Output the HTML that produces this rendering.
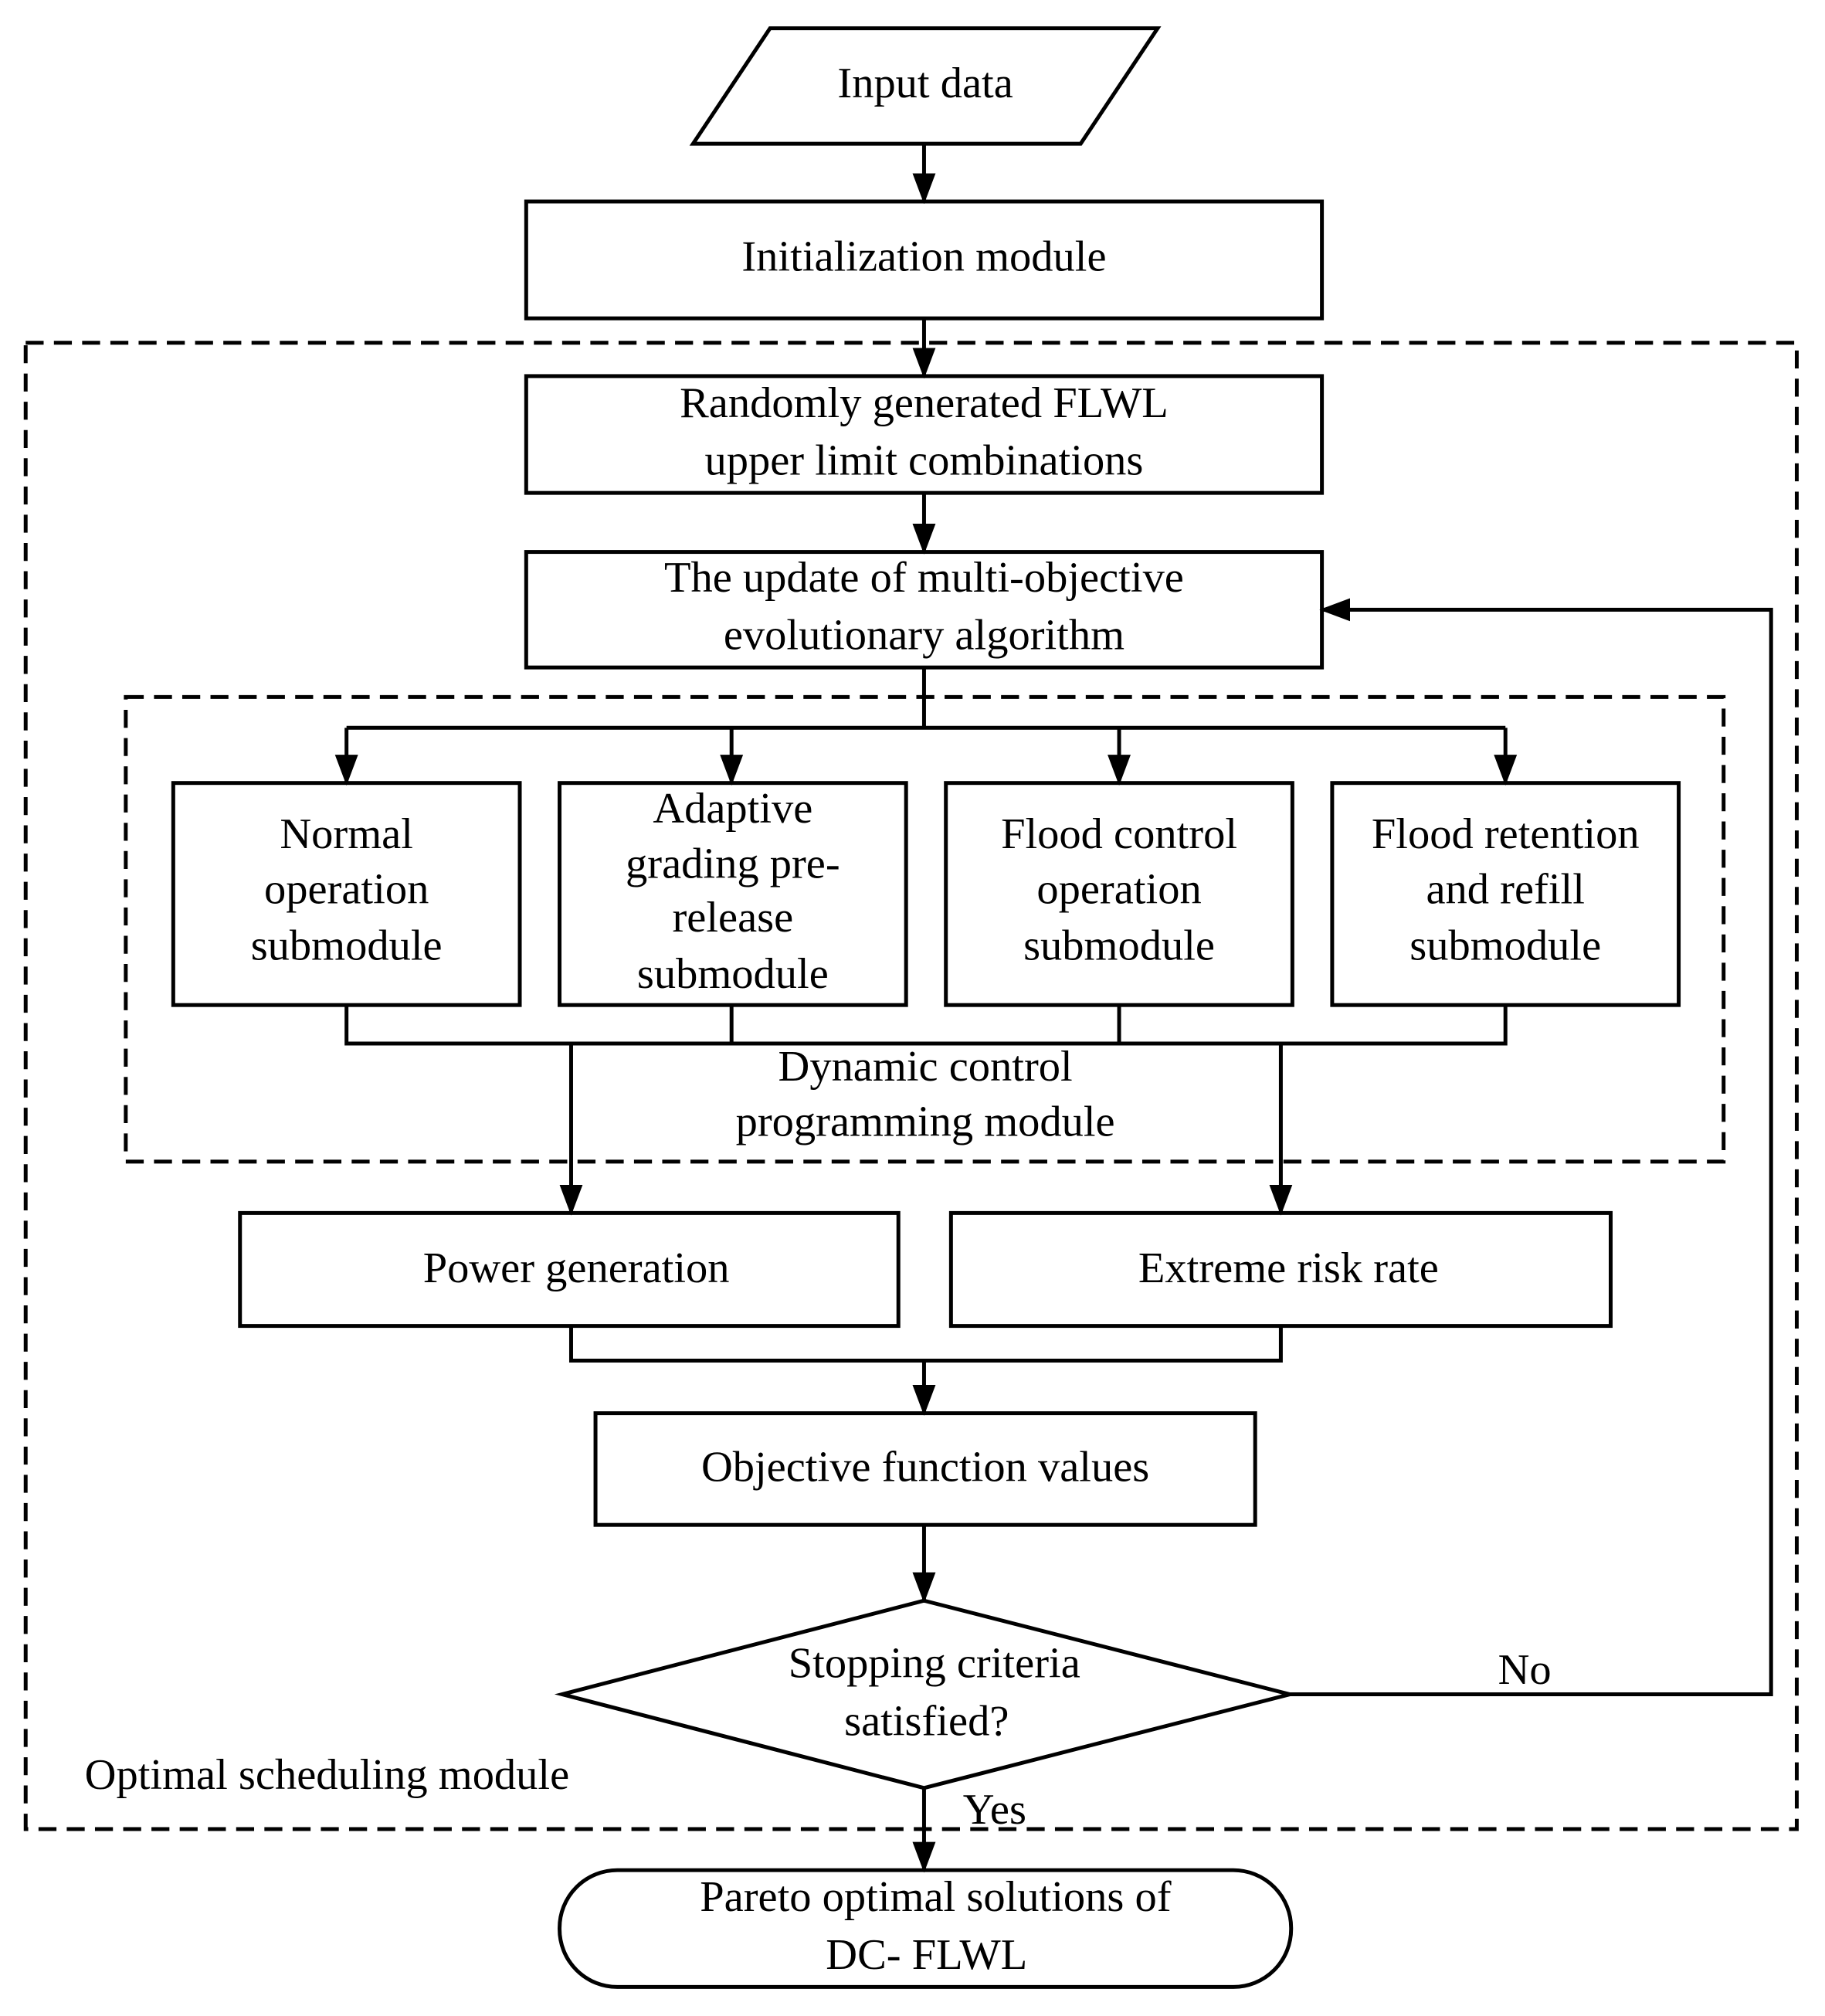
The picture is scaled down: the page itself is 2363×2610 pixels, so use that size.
<!DOCTYPE html>
<html><head><meta charset="utf-8"><style>html,body{margin:0;padding:0;background:#fff}svg{display:block}</style></head>
<body>
<svg xmlns="http://www.w3.org/2000/svg" width="2363" height="2610" viewBox="0 0 1422 1570.6">
<defs><marker id="a" markerWidth="10" markerHeight="10" refX="9" refY="5" orient="auto" markerUnits="userSpaceOnUse" viewBox="0 0 10 10"><path d="M0,0 L10,5 L0,10 z" fill="#000"/></marker>
<marker id="b" markerWidth="24" markerHeight="24" refX="22" refY="12" orient="auto" markerUnits="userSpaceOnUse" viewBox="0 0 24 24"><path d="M0,3 L24,12 L0,21 z" fill="#000"/></marker></defs>
<g fill="none" stroke="#000" stroke-width="3">
<polygon points="540,112 600,22 902,22 842,112"/>
<rect x="410" y="157" width="620" height="91"/>
<rect x="20" y="267" width="1380" height="1158" stroke-dasharray="14,8"/>
<rect x="410" y="293" width="620" height="91"/>
<rect x="410" y="430" width="620" height="90"/>
<rect x="98" y="543" width="1245" height="362" stroke-dasharray="14,8"/>
<rect x="135" y="610" width="270" height="173"/>
<rect x="436" y="610" width="270" height="173"/>
<rect x="737" y="610" width="270" height="173"/>
<rect x="1038" y="610" width="270" height="173"/>
<rect x="187" y="945" width="513" height="88"/>
<rect x="741" y="945" width="514" height="88"/>
<rect x="464" y="1101" width="514" height="87"/>
<polygon points="720,1247 1005,1320 720,1393 438,1320"/>
<rect x="436" y="1457" width="570" height="91" rx="45" ry="45"/>
<g marker-end="url(#b)">
<line x1="720" y1="112" x2="720" y2="157"/>
<line x1="720" y1="248" x2="720" y2="293"/>
<line x1="720" y1="384" x2="720" y2="430"/>
<line x1="270" y1="567" x2="270" y2="610"/>
<line x1="570" y1="567" x2="570" y2="610"/>
<line x1="872" y1="567" x2="872" y2="610"/>
<line x1="1173" y1="567" x2="1173" y2="610"/>
<line x1="445" y1="813" x2="445" y2="945"/>
<line x1="998" y1="813" x2="998" y2="945"/>
<line x1="720" y1="1060" x2="720" y2="1101"/>
<line x1="720" y1="1188" x2="720" y2="1247"/>
<line x1="720" y1="1393" x2="720" y2="1457"/>
<polyline points="1005,1320 1380,1320 1380,475 1030,475"/>
</g>
<line x1="720" y1="520" x2="720" y2="567"/>
<line x1="270" y1="567" x2="1173" y2="567"/>
<polyline points="270,783 270,813 1173,813 1173,783"/>
<line x1="570" y1="783" x2="570" y2="813"/>
<line x1="872" y1="783" x2="872" y2="813"/>
<polyline points="445,1033 445,1060 998,1060 998,1033"/>
</g>
<g font-family="Liberation Serif, serif" font-size="34" text-anchor="middle" fill="#000" dominant-baseline="middle">
<text x="721" y="68">Input data</text>
<text x="720" y="203">Initialization module</text>
<text x="720" y="317">Randomly generated FLWL</text>
<text x="720" y="362">upper limit combinations</text>
<text x="720" y="453">The update of multi-objective</text>
<text x="720" y="498">evolutionary algorithm</text>
<text x="270" y="653">Normal</text><text x="270" y="696">operation</text><text x="270" y="740">submodule</text>
<text x="571" y="633">Adaptive</text><text x="571" y="676">grading pre-</text><text x="571" y="718">release</text><text x="571" y="762">submodule</text>
<text x="872" y="653">Flood control</text><text x="872" y="696">operation</text><text x="872" y="740">submodule</text>
<text x="1173" y="653">Flood retention</text><text x="1173" y="696">and refill</text><text x="1173" y="740">submodule</text>
<text x="721" y="834">Dynamic control</text>
<text x="721" y="877">programming module</text>
<text x="449" y="991">Power generation</text>
<text x="1004" y="991">Extreme risk rate</text>
<text x="721" y="1146">Objective function values</text>
<text x="728" y="1299">Stopping criteria</text>
<text x="722" y="1344">satisfied?</text>
<text x="1188" y="1304">No</text>
<text x="775" y="1413">Yes</text>
<text x="66" y="1386" text-anchor="start">Optimal scheduling module</text>
<text x="729" y="1481">Pareto optimal solutions of</text>
<text x="722" y="1526">DC- FLWL</text>
</g>
</svg>
</body></html>
